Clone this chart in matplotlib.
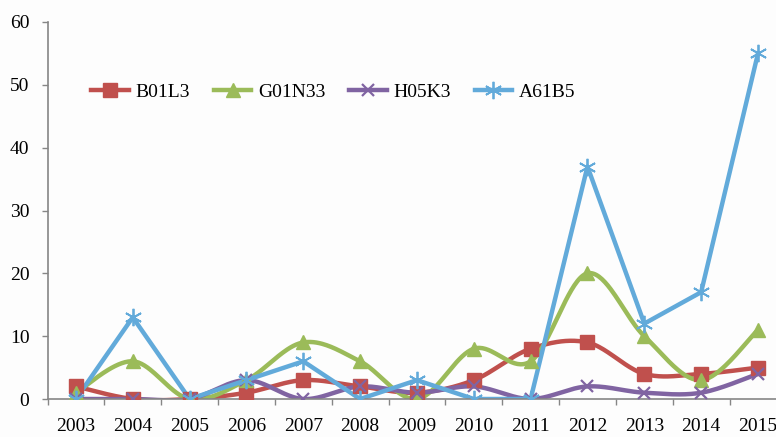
import numpy as np
import matplotlib
matplotlib.use("Agg")
import matplotlib.pyplot as plt
from matplotlib.ticker import FixedLocator

years = ["2003", "2004", "2005", "2006", "2007", "2008", "2009",
         "2010", "2011", "2012", "2013", "2014", "2015"]
b01l3 = [2, 0, 0, 1, 3, 2, 1, 3, 8, 9, 4, 4, 5]
g01n33 = [1, 6, 0, 3, 9, 6, 0, 8, 6, 20, 10, 3, 11]
h05k3 = [0, 0, 0, 3, 0, 2, 1, 2, 0, 2, 1, 1, 4]
a61b5 = [0, 13, 0, 3, 6, 0, 3, 0, 0, 37, 12, 17, 55]
yticks = [0, 10, 20, 30, 40, 50, 60]


def smooth(y, n=40):
    """Excel-like smoothed line (cardinal Bezier, tension 1/6)."""
    y = np.asarray(y, float)
    x = np.arange(len(y), dtype=float)
    xs, ys = [], []
    m = len(y)
    for i in range(m - 1):
        p0 = (x[max(i - 1, 0)], y[max(i - 1, 0)])
        p1 = (x[i], y[i])
        p2 = (x[i + 1], y[i + 1])
        p3 = (x[min(i + 2, m - 1)], y[min(i + 2, m - 1)])
        c1 = (p1[0] + (p2[0] - p0[0]) / 6, p1[1] + (p2[1] - p0[1]) / 6)
        c2 = (p2[0] - (p3[0] - p1[0]) / 6, p2[1] - (p3[1] - p1[1]) / 6)
        t = np.linspace(0, 1, n)
        bx = ((1 - t) ** 3 * p1[0] + 3 * (1 - t) ** 2 * t * c1[0]
              + 3 * (1 - t) * t ** 2 * c2[0] + t ** 3 * p2[0])
        by = ((1 - t) ** 3 * p1[1] + 3 * (1 - t) ** 2 * t * c1[1]
              + 3 * (1 - t) * t ** 2 * c2[1] + t ** 3 * p2[1])
        xs.extend(bx if i == 0 else bx[1:])
        ys.extend(by if i == 0 else by[1:])
    return np.array(xs), np.array(ys)


plt.rcParams['font.family'] = ['Liberation Serif', 'DejaVu Serif']

W, H = 776, 437
fig = plt.figure(figsize=(W / 100, H / 100), dpi=100, facecolor='#FDFDFD')
ax = fig.add_axes([47.5 / W, (H - 399) / H, (W - 47.5) / W, (399 - 22) / H])
ax.set_facecolor('#FDFDFD')

x = np.arange(len(years))
red, green, purple, blue = '#C0504D', '#9BBB59', '#8064A2', '#62AADA'
lw = 3.2

series = [
    ("B01L3", b01l3, red, 's', 9.5, True),
    ("G01N33", g01n33, green, '^', 10.5, True),
    ("H05K3", h05k3, purple, 'x', 9, True),
]
handles = []
for name, vals, col, mk, ms, sm in series:
    sx, sy = smooth(vals)
    ax.plot(sx, sy, color=col, lw=lw, solid_capstyle='round', zorder=2)
    ax.plot(x, vals, ls='none', marker=mk, ms=ms, color=col,
            mec=col, mew=1.6 if mk == 'x' else 1, zorder=3)
    h, = ax.plot([], [], color=col, lw=lw, marker=mk, ms=ms, mec=col,
                 mew=1.6 if mk == 'x' else 1)
    handles.append((h, name))

ax.plot(x, a61b5, color=blue, lw=lw, zorder=2)
ax.plot(x, a61b5, ls='none', marker=(6, 2, 0), ms=12.5, mec=blue, mew=1.3,
        zorder=3)
hb, = ax.plot([], [], color=blue, lw=lw, marker=(6, 2, 0), ms=12.5, mec=blue,
              mew=1.3)
handles.append((hb, "A61B5"))

ax.set_xlim(-0.5, 12 + (W - 758) / 56.75)
ax.set_ylim(0, 60)
ax.set_yticks(yticks)
ax.set_yticklabels([str(v) for v in yticks], fontsize=14)
ax.set_xticks(x)
ax.set_xticklabels(years, fontsize=14)
ax.xaxis.set_minor_locator(FixedLocator(np.arange(-0.5, 12.6, 1.0)))
ax.tick_params(axis='x', which='major', length=0, pad=14)
ax.tick_params(axis='x', which='minor', length=4, width=1, color='#868686',
               direction='out')
ax.tick_params(axis='y', length=4, width=1, color='#868686', pad=9,
               direction='out')
for s in ['top', 'right']:
    ax.spines[s].set_visible(False)
for s in ['left', 'bottom']:
    ax.spines[s].set_color('#868686')
    ax.spines[s].set_linewidth(1.2)
ax.spines['left'].set_zorder(1)

leg = fig.legend([h for h, _ in handles], [n for _, n in handles],
                 loc='center left', bbox_to_anchor=(91 / W, (H - 92) / H),
                 ncol=4, frameon=False, fontsize=14, handlelength=1.95,
                 handletextpad=0.35, columnspacing=1.2, borderpad=0,
                 borderaxespad=0)

fig.savefig('out.png', dpi=100, facecolor=fig.get_facecolor())
